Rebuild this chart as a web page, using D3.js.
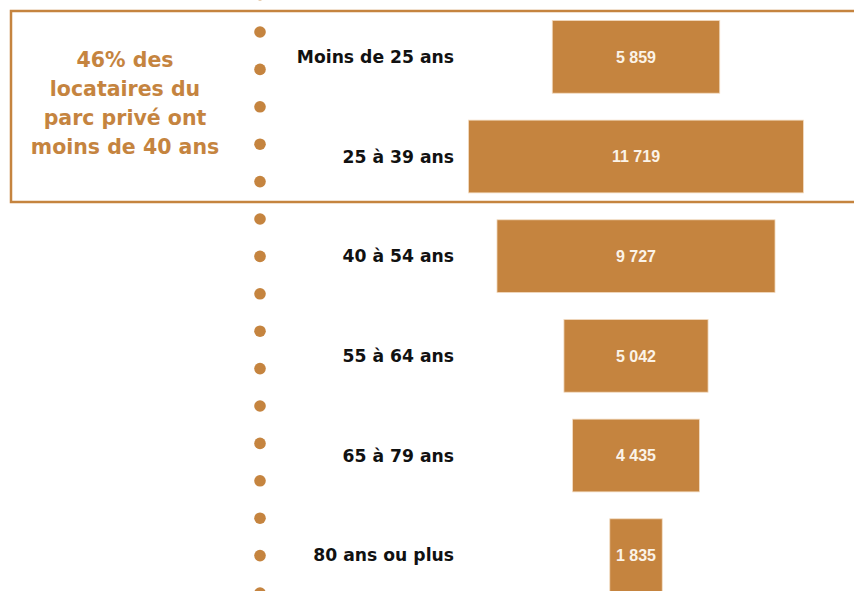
<!DOCTYPE html>
<html>
<head>
<meta charset="utf-8">
<script src="https://cdn.jsdelivr.net/npm/d3@7"></script>
<style>
  body { margin: 0; background: #fff; }
  svg { display: block; }
</style>
</head>
<body>
<div id="chart"></div>
<script>
// data
const ageGroups = ['Moins de 25 ans', '25 à 39 ans', '40 à 54 ans', '55 à 64 ans', '65 à 79 ans', '80 ans ou plus'];
const tenants = [5859, 11719, 9727, 5042, 4435, 1835];
const calloutLines = ['46% des', 'locataires du', 'parc privé ont', 'moins de 40 ans'];

const orange = '#c5843f';
const width = 854, height = 591;

const svg = d3.select('#chart').append('svg')
  .attr('width', width)
  .attr('height', height);

// callout box (right side runs off the page)
svg.append('rect')
  .attr('x', 11)
  .attr('y', 11)
  .attr('width', 860)
  .attr('height', 191)
  .attr('fill', 'none')
  .attr('stroke', orange)
  .attr('stroke-width', 2.5);

svg.append('g')
  .selectAll('text')
  .data(calloutLines)
  .join('text')
  .attr('x', 125)
  .attr('y', (d, i) => 60 + i * 29)
  .attr('dy', '0.36em')
  .attr('text-anchor', 'middle')
  .attr('font-family', 'DejaVu Sans, sans-serif')
  .attr('font-weight', 'bold')
  .attr('font-size', 20.5)
  .attr('fill', orange)
  .text(d => d);

// dotted vertical line
const dotY = d3.scaleLinear().domain([0, 1]).range([32, 69.4]);
svg.append('g')
  .selectAll('circle')
  .data(d3.range(-1, 16))
  .join('circle')
  .attr('cx', 260)
  .attr('cy', d => dotY(d))
  .attr('r', 5.8)
  .attr('fill', orange);

// scales
const y = d3.scaleBand()
  .domain(ageGroups)
  .range([7, 605])
  .paddingInner(0.27)
  .paddingOuter(0.135);

const x = d3.scaleLinear()
  .domain([0, d3.max(tenants)])
  .range([0, 335]);

const centerX = 636;
const rows = ageGroups.map((g, i) => ({ group: g, value: tenants[i] }));

const fmt = v => d3.format(',')(v).replace(/,/g, ' ');

// bars
svg.append('g')
  .selectAll('rect')
  .data(rows)
  .join('rect')
  .attr('x', d => centerX - x(d.value) / 2)
  .attr('y', d => y(d.group))
  .attr('width', d => x(d.value))
  .attr('height', y.bandwidth())
  .attr('fill', orange)
  .attr('stroke', '#f3dcc2')
  .attr('stroke-width', 0.8);

// value labels
svg.append('g')
  .selectAll('text')
  .data(rows)
  .join('text')
  .attr('x', centerX)
  .attr('y', d => y(d.group) + y.bandwidth() / 2)
  .attr('dy', '0.36em')
  .attr('text-anchor', 'middle')
  .attr('font-family', 'Liberation Sans, Arial, sans-serif')
  .attr('font-weight', 'bold')
  .attr('font-size', 16)
  .attr('fill', '#fbf3e8')
  .text(d => fmt(d.value));

// category labels
svg.append('g')
  .selectAll('text')
  .data(rows)
  .join('text')
  .attr('x', 454)
  .attr('y', d => y(d.group) + y.bandwidth() / 2)
  .attr('dy', '0.36em')
  .attr('text-anchor', 'end')
  .attr('font-family', 'DejaVu Sans, sans-serif')
  .attr('font-weight', 'bold')
  .attr('font-size', 17.2)
  .attr('fill', '#111')
  .text(d => d.group);
</script>
</body>
</html>
